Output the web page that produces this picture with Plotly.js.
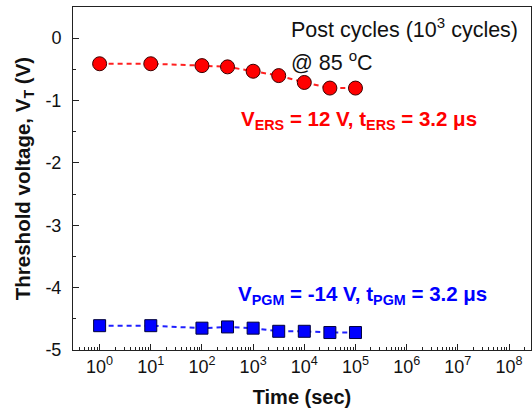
<!DOCTYPE html>
<html>
<head>
<meta charset="utf-8">
<script src="https://cdn.plot.ly/plotly-3.0.1.min.js"></script>
<style>html,body{margin:0;padding:0;background:#fff;}#chart{width:532px;height:415px;}</style>
</head>
<body>
<div id="chart"></div>
<script>
// Retention time (s)
var times = [1, 10, 100, 316, 1000, 3162, 10000, 31623, 100000];
// Threshold voltage after erase (V)
var ersVT = [-0.41, -0.41, -0.44, -0.46, -0.53, -0.60, -0.71, -0.80, -0.80];
// Threshold voltage after program (V)
var pgmVT = [-4.61, -4.61, -4.65, -4.63, -4.65, -4.70, -4.70, -4.72, -4.72];
// X tick labels
var xTickVals = [1, 10, 100, 1000, 10000, 100000, 1e6, 1e7, 1e8];
var xTickText = ['10<sup>0</sup>', '10<sup>1</sup>', '10<sup>2</sup>', '10<sup>3</sup>', '10<sup>4</sup>', '10<sup>5</sup>', '10<sup>6</sup>', '10<sup>7</sup>', '10<sup>8</sup>'];
var yTickVals = [0, -1, -2, -3, -4, -5];
var yTickText = ['0', '-1', '-2', '-3', '-4', '-5'];

var font = 'Liberation Sans, Arial, sans-serif';

var traces = [
  {
    x: times, y: ersVT, type: 'scatter', mode: 'lines+markers',
    line: {color: '#ff2020', width: 2, dash: '5px,4px'},
    marker: {symbol: 'circle', size: 14, color: '#ff0000', line: {color: '#3a0000', width: 1}},
    showlegend: false
  },
  {
    x: times, y: pgmVT, type: 'scatter', mode: 'lines+markers',
    line: {color: '#2020ff', width: 2, dash: '5px,4px'},
    marker: {symbol: 'square', size: 12, color: '#0000ff', line: {color: '#00003a', width: 1}},
    showlegend: false
  }
];

var layout = {
  width: 532, height: 415,
  margin: {l: 73, r: 1, t: 7, b: 65},
  paper_bgcolor: '#fff', plot_bgcolor: '#fff',
  font: {family: font, color: '#000'},
  xaxis: {
    type: 'log', range: [-0.52, 8.43],
    tickmode: 'array', tickvals: xTickVals, ticktext: xTickText,
    ticks: 'inside', ticklen: 6, tickwidth: 1, tickcolor: '#222',
    minor: {ticks: 'inside', ticklen: 3, tickcolor: '#222', dtick: 'D1', showgrid: false},
    showline: true, linecolor: '#222', linewidth: 1, mirror: true,
    showgrid: false, zeroline: false,
    tickfont: {size: 18, family: font, color: '#111'},
    title: {text: '<b>Time (sec)</b>', font: {size: 20, family: font, color: '#111'}, standoff: 14}
  },
  yaxis: {
    range: [-5, 0.5],
    tickmode: 'array', tickvals: yTickVals, ticktext: yTickText,
    ticks: 'inside', ticklen: 6, tickwidth: 1, tickcolor: '#222',
    ticklabelstandoff: 7,
    minor: {ticks: 'inside', ticklen: 3, tickcolor: '#222', dtick: 0.5, tick0: 0, showgrid: false},
    showline: true, linecolor: '#222', linewidth: 1, mirror: true,
    showgrid: false, zeroline: false,
    tickfont: {size: 18, family: font, color: '#111'},
    title: {text: '<b>Threshold voltage, V<sub>T</sub> (V)</b>', font: {size: 20.5, family: font, color: '#111'}, standoff: 9}
  },
  annotations: [
    {xref: 'paper', yref: 'paper', x: 289, y: 28, text: 'Post cycles (10<sup>3</sup> cycles)',
     showarrow: false, xanchor: 'left', yanchor: 'middle', font: {size: 21.5, family: font, color: '#111'}},
    {xref: 'paper', yref: 'paper', x: 289, y: 61, text: '@ 85 <sup>o</sup>C',
     showarrow: false, xanchor: 'left', yanchor: 'middle', font: {size: 21.5, family: font, color: '#111'}},
    {xref: 'paper', yref: 'paper', x: 239, y: 120, text: '<b>V<sub>ERS</sub> = 12 V, t<sub>ERS</sub> = 3.2 μs</b>',
     showarrow: false, xanchor: 'left', yanchor: 'middle', font: {size: 20.5, family: font, color: '#ff0000'}},
    {xref: 'paper', yref: 'paper', x: 236, y: 295, text: '<b>V<sub>PGM</sub> = -14 V, t<sub>PGM</sub> = 3.2 μs</b>',
     showarrow: false, xanchor: 'left', yanchor: 'middle', font: {size: 20.5, family: font, color: '#0000ff'}}
  ]
};

// convert pixel positions of annotations into paper coordinates
var pw = layout.width - layout.margin.l - layout.margin.r;
var ph = layout.height - layout.margin.t - layout.margin.b;
layout.annotations.forEach(function (a) {
  a.x = (a.x - layout.margin.l) / pw;
  a.y = 1 - (a.y - layout.margin.t) / ph;
});

Plotly.newPlot('chart', traces, layout, {displayModeBar: false, staticPlot: true});
</script>
</body>
</html>
